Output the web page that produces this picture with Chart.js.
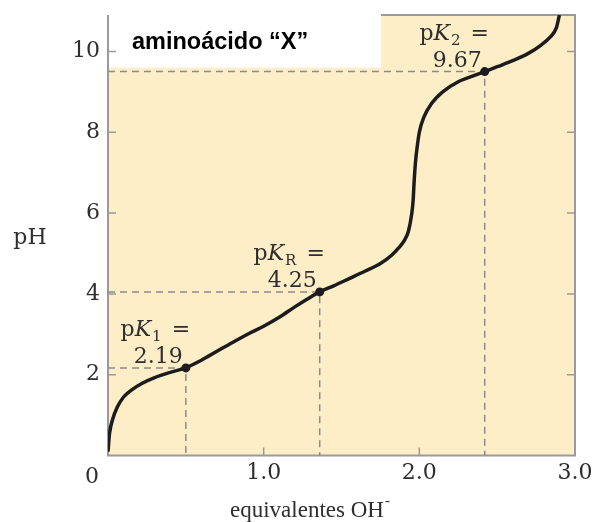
<!DOCTYPE html>
<html>
<head>
<meta charset="utf-8">
<script src="https://cdn.jsdelivr.net/npm/chart.js@4/dist/chart.umd.min.js"></script>
<style>
  html, body { margin: 0; padding: 0; background: #fff; }
  #wrap { width: 594px; height: 522px; }
</style>
</head>
<body>
<div id="wrap"><canvas id="myChart"></canvas></div>
<script>
// titration curve
var equivalents = [0, 0.01, 0.03, 0.06, 0.1, 0.15, 0.22, 0.3, 0.4, 0.5, 0.6, 0.7, 0.8, 0.9, 1.0, 1.1, 1.2, 1.3, 1.36, 1.45, 1.55, 1.65, 1.75, 1.82, 1.87, 1.905, 1.93, 1.95, 1.96, 1.967, 1.975, 1.985, 2.0, 2.03, 2.08, 2.15, 2.25, 2.35, 2.42, 2.5, 2.6, 2.7, 2.78, 2.84, 2.88, 2.90];
var pHValues = [0.1, 0.55, 0.9, 1.2, 1.45, 1.62, 1.79, 1.93, 2.06, 2.17, 2.36, 2.58, 2.8, 3.01, 3.2, 3.42, 3.68, 3.92, 4.05, 4.2, 4.38, 4.56, 4.75, 4.95, 5.15, 5.33, 5.55, 5.95, 6.3, 6.8, 7.25, 7.6, 8.0, 8.38, 8.72, 9.0, 9.25, 9.4, 9.5, 9.62, 9.77, 9.95, 10.15, 10.35, 10.58, 10.9];

// pK points
var pkNames = ["1", "R", "2"];
var pkLabels = ["2.19", "4.25", "9.67"];
var pkX = [0.50, 1.36, 2.42];
var pkY = [2.17, 4.05, 9.5];

var yTicks = [2, 4, 6, 8, 10];
var xTicks = [0, 1.0, 2.0, 3.0];

var serif = "'DejaVu Serif', serif";
var textColor = "#2e2e2e";
var frameColor = "#9a9a9a";

var curve = equivalents.map((x, i) => ({ x: x, y: pHValues[i] }));
var dots = pkX.map((x, i) => ({ x: x, y: pkY[i] }));

var guideSets = pkX.map((x, i) => ({
    data: [{ x: 0, y: pkY[i] }, { x: x, y: pkY[i] }, { x: x, y: 0 }],
    borderColor: "#8a8a8a",
    borderWidth: 1.5,
    borderDash: [7, 5],
    pointRadius: 0,
    tension: 0
}));

const frame = {
    id: "frame",
    beforeDatasetsDraw(chart) {
        const { ctx, chartArea: a, scales: { x, y } } = chart;
        ctx.save();
        ctx.fillStyle = "rgb(253,238,200)";
        ctx.fillRect(a.left, a.top, a.right - a.left, a.bottom - a.top);

        // white box behind the title
        var bx = x.getPixelForValue(1.753);
        var by = y.getPixelForValue(9.6);
        ctx.fillStyle = "#fff";
        ctx.fillRect(a.left + 1, a.top - 2, bx - a.left - 1, by - a.top + 2);

        ctx.strokeStyle = frameColor;
        ctx.lineWidth = 2;
        ctx.beginPath();
        ctx.moveTo(bx, a.top);
        ctx.lineTo(a.right, a.top);
        ctx.lineTo(a.right, a.bottom);
        ctx.lineTo(a.left, a.bottom);
        ctx.lineTo(a.left, a.top);
        ctx.stroke();

        // inward ticks
        ctx.lineWidth = 1.5;
        ctx.beginPath();
        yTicks.forEach(v => {
            var py = y.getPixelForValue(v);
            ctx.moveTo(a.left, py); ctx.lineTo(a.left + 8, py);
            ctx.moveTo(a.right, py); ctx.lineTo(a.right - 8, py);
        });
        xTicks.slice(1, 3).forEach(v => {
            var px = x.getPixelForValue(v);
            ctx.moveTo(px, a.bottom); ctx.lineTo(px, a.bottom - 8);
        });
        ctx.stroke();
        ctx.restore();
    },
    afterDatasetsDraw(chart) {
        const { ctx, chartArea: a, scales: { x, y } } = chart;
        ctx.save();
        ctx.fillStyle = textColor;

        // corner zero, y title, x title
        ctx.font = "22px " + serif;
        ctx.textAlign = "center";
        ctx.textBaseline = "middle";
        ctx.fillText("0", a.left - 16, a.bottom + 22);
        ctx.fillText("pH", a.left - 78, 238);

        ctx.font = "23px 'Liberation Serif', serif";
        ctx.textAlign = "left";
        ctx.textBaseline = "alphabetic";
        ctx.fillText("equivalentes OH", a.left + 122, 517);
        var w = ctx.measureText("equivalentes OH").width;
        ctx.font = "15px 'Liberation Serif', serif";
        ctx.fillText("-", a.left + 123 + w, 505);

        ctx.fillStyle = "#000";
        ctx.font = "bold 23.5px 'Liberation Sans', Arial, sans-serif";
        ctx.fillText("aminoácido \u201cX\u201d", a.left + 24, 49);

        // pK annotations
        ctx.fillStyle = textColor;
        pkX.forEach((v, i) => {
            var px = x.getPixelForValue(v);
            var py = y.getPixelForValue(pkY[i]);
            ctx.font = "22px " + serif;
            ctx.textAlign = "right";
            var vw = ctx.measureText(pkLabels[i]).width;
            ctx.fillText(pkLabels[i], px - 3, py - 5);
            var center = px - 3 - vw / 2 - 3;

            ctx.textAlign = "left";
            var parts = [
                { t: "p", f: "22px " + serif, dy: 0, gap: 0 },
                { t: "K", f: "italic 22px " + serif, dy: 0, gap: 1 },
                { t: pkNames[i], f: "15px " + serif, dy: 5, gap: 3 },
                { t: " =", f: "22px " + serif, dy: 0, gap: 0 }
            ];
            var total = 0;
            parts.forEach(p => { ctx.font = p.f; p.w = ctx.measureText(p.t).width + p.gap; total += p.w; });
            var cx = center - total / 2;
            parts.forEach(p => {
                ctx.font = p.f;
                ctx.fillText(p.t, cx, py - 32 + p.dy);
                cx += p.w;
            });
        });
        ctx.restore();
    }
};

const data = {
    datasets: [
        {
            data: dots,
            showLine: false,
            pointRadius: 4.5,
            pointBackgroundColor: "#1c1c1c",
            pointBorderWidth: 0
        },
        {
            data: curve,
            borderColor: "#1c1c1c",
            borderWidth: 3.5,
            pointRadius: 0,
            cubicInterpolationMode: "monotone"
        },
        ...guideSets
    ]
};

const config = {
    type: "line",
    data: data,
    options: {
        responsive: true,
        maintainAspectRatio: false,
        animation: false,
        layout: { padding: { left: 64, top: 15, right: 19, bottom: 32 } },
        plugins: { legend: { display: false }, tooltip: { enabled: false } },
        scales: {
            x: {
                type: "linear",
                min: 0,
                max: 3,
                grid: { display: false, drawTicks: false },
                border: { display: false },
                afterBuildTicks: s => { s.ticks = xTicks.map(v => ({ value: v })); },
                afterFit: s => { s.paddingLeft = 0; s.paddingRight = 0; },
                ticks: {
                    padding: 4,
                    color: textColor,
                    font: { family: serif, size: 22 },
                    callback: v => v === 0 ? "" : v.toFixed(1)
                }
            },
            y: {
                min: 0,
                max: 10.9,
                grid: { display: false, drawTicks: false },
                border: { display: false },
                afterBuildTicks: s => { s.ticks = yTicks.map(v => ({ value: v })); },
                afterFit: s => { s.paddingTop = 0; s.paddingBottom = 0; },
                ticks: {
                    padding: 8,
                    color: textColor,
                    font: { family: serif, size: 22 },
                    callback: v => v
                }
            }
        }
    },
    plugins: [frame]
};
const myChart = new Chart(document.getElementById("myChart"), config);
</script>
</body>
</html>
